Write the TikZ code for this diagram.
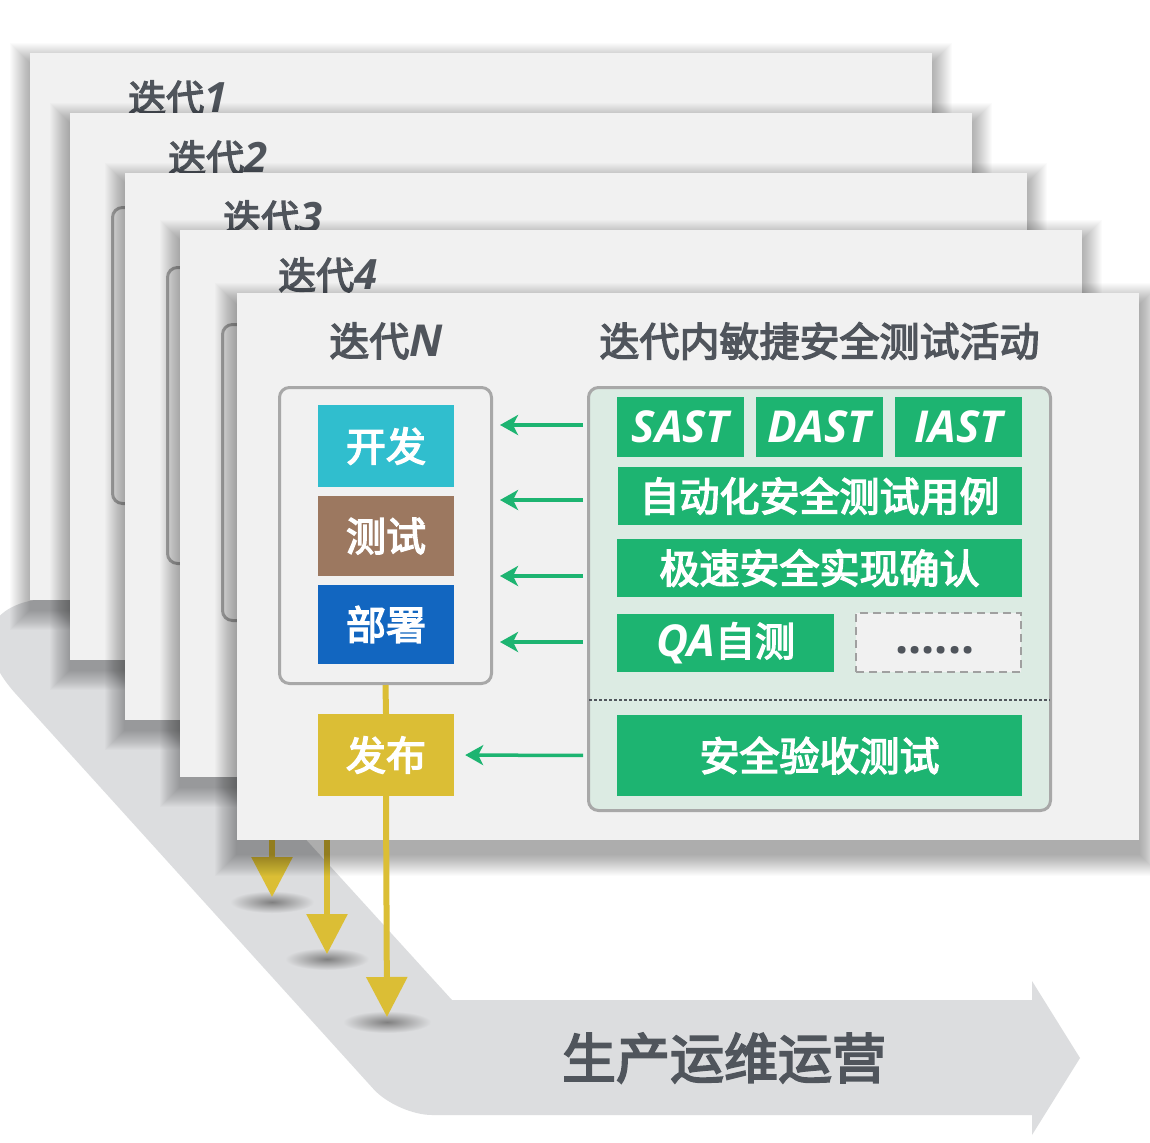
\documentclass[tikz,border=0pt]{standalone}
\usepackage{fontspec}
\newfontfamily\zhfont{Noto Sans CJK SC}[FakeBold=3.5]
\newfontfamily\latfont{Open Sans}[Scale=1.1]
\usetikzlibrary{arrows.meta,calc}
\definecolor{cardbg}{HTML}{F1F1F1}
\definecolor{band}{HTML}{DCDDDF}
\definecolor{txt}{HTML}{50555C}
\definecolor{gfill}{HTML}{1DB471}
\definecolor{cyanbox}{HTML}{30BECE}
\definecolor{brownbox}{HTML}{9C7860}
\definecolor{bluebox}{HTML}{1266C0}
\definecolor{yel}{HTML}{DBBE35}
\definecolor{rbg}{HTML}{DCEBE3}
\definecolor{bord}{HTML}{A8A8A8}
\definecolor{dashbord}{HTML}{A0A0A0}
\newcommand\latbi{\latfont\bfseries\itshape}
\begin{document}
\begin{tikzpicture}[x=1pt,y=-1pt,
  ttlsmall/.style={font=\zhfont\fontsize{38}{44}\selectfont, text=txt, inner sep=0, anchor=west},
  ttl/.style={font=\zhfont\fontsize{40}{46}\selectfont, text=txt, inner sep=0},
  innerbox/.style={draw=bord, line width=3pt, rounded corners=10pt},
  lboxs/.style={draw=bord, line width=3pt, rounded corners=10pt, fill=cardbg, minimum width=212pt, minimum height=296pt, inner sep=0},
  rboxs/.style={draw=bord, line width=3pt, rounded corners=10pt, fill=rbg, minimum width=462pt, minimum height=423pt, inner sep=0},
  cbox/.style={inner sep=0, text=white, font=\zhfont\fontsize{40}{46}\selectfont, minimum width=136pt},
  gbox/.style={inner sep=0, text=white, fill=gfill, font=\zhfont\fontsize{40}{46}\selectfont},
  dashbox/.style={inner sep=0, fill=cardbg, draw=dashbord, line width=2.5pt, dash pattern=on 8pt off 5pt, text=txt},
  garrow/.style={draw=gfill, line width=3.5pt, -{Stealth[length=18pt,width=20pt,inset=5pt]}},
  yline/.style={draw=yel, line width=6pt},
  yarrow/.style={draw=yel, line width=6pt, -{Triangle[length=40pt,width=40pt]}},
  dotline/.style={draw=txt, line width=2.5pt, dash pattern=on 2.5pt off 2.5pt},
  tipshadow/.style={inner color=black!50, outer color=band}
]
\useasboundingbox (0,0) rectangle (1150,1142);
\fill[white] (0,0) rectangle (1150,1142);

% production band arrow
\fill[band] (86,598) [rounded corners=130pt] -- (-71,598) [rounded corners=35pt] -- (397,1115) [sharp corners] -- (1032,1115) -- (1032,1135) -- (1080,1058) -- (1032,981) -- (1032,1000) -- (452,1000) -- cycle;
\node[font=\zhfont\fontsize{54}{60}\selectfont, text=txt, inner sep=0] (ops) at (724,1058) {生产运维运营};

% background iteration cards
\foreach \l/\t/\n in {30/53/1,70/113/2,125/173/3,180/230/4} {
  \foreach \k in {1,...,20}
    \fill[black,opacity=0.017] (\l-\k, \t-\k+10) rectangle (\l+902+\k, \t+547+\k+10);
  \fill[cardbg] (\l,\t) rectangle ++(902,547);
  \node[ttlsmall] (title\n) at (\l+98,\t+45) {迭代{\latbi\n}};
  \draw[innerbox] (\l+42.5,\t+94.5) rectangle ++(212,296);
  \ifnum\n>2
    \shade[tipshadow] (\l+147,\t+547+182) ellipse [x radius=42pt, y radius=11pt];
    \coordinate (s\n) at (\l+147,\t+547);
    \coordinate (e\n) at (\l+147,\t+547+177);
    \draw[yarrow] (s\n) -- (e\n);
  \fi
}

% main card N
\foreach \k in {1,...,22}
  \fill[black,opacity=0.017] (237-\k, 293-\k+12) rectangle (1139+\k, 840+\k+14);
\fill[cardbg] (237,293) rectangle (1139,840);
\node[ttl] (tN) at (386,341) {迭代{\latbi N}};
\node[ttl] (tR) at (819.5,341) {迭代内敏捷安全测试活动};

\node[lboxs] (lbox) at (385.5,535.5) {};
\node[cbox, fill=cyanbox, minimum height=82pt] (kaifa) at (386,446) {开发};
\node[cbox, fill=brownbox, minimum height=80pt] (ceshi) at (386,536) {测试};
\node[cbox, fill=bluebox, minimum height=79pt] (bushu) at (386,624.5) {部署};
\node[cbox, fill=yel, minimum height=82pt] (fabu) at (386,755) {发布};

\node[rboxs] (rbox) at (819.5,599) {};
\node[gbox, minimum width=127pt, minimum height=60pt] (sast) at (680.5,427) {\latbi SAST};
\node[gbox, minimum width=127pt, minimum height=60pt] (dast) at (819.5,427) {\latbi DAST};
\node[gbox, minimum width=127pt, minimum height=60pt] (iast) at (958.5,427) {\latbi IAST};
\node[gbox, minimum width=404pt, minimum height=58pt] (auto) at (819.5,496) {自动化安全测试用例};
\node[gbox, minimum width=405pt, minimum height=58pt] (jisu) at (819.5,568) {极速安全实现确认};
\node[gbox, minimum width=217pt, minimum height=58pt] (qa) at (725.5,643) {{\latbi QA}自测};
\node[dashbox, minimum width=165pt, minimum height=59pt] (more) at (938.5,642.5) {};
\node[text=txt, font=\latfont\bfseries\fontsize{42}{44}\selectfont, inner sep=0] (dots) at (935,650) {......};
\node[gbox, minimum width=405pt, minimum height=81pt] (accept) at (819.5,755.5) {安全验收测试};

\coordinate (d1) at ($(rbox.west)+(2,101)$);
\coordinate (d2) at ($(rbox.east)+(-2,101)$);
\draw[dotline] (d1) -- (d2);

% green arrows
\draw[garrow, shorten <=4pt, shorten >=7pt] ($(rbox.west |- sast)+(0,-2)$) -- ($(lbox.east |- sast)+(0,-2)$);
\draw[garrow, shorten <=4pt, shorten >=7pt] ($(rbox.west |- auto)+(0,4)$) -- ($(lbox.east |- auto)+(0,4)$);
\draw[garrow, shorten <=4pt, shorten >=7pt] ($(rbox.west |- jisu)+(0,8)$) -- ($(lbox.east |- jisu)+(0,8)$);
\draw[garrow, shorten <=4pt, shorten >=7pt] ($(rbox.west |- qa)+(0,-1)$) -- ($(lbox.east |- qa)+(0,-1)$);
\draw[garrow, shorten <=4pt, shorten >=11pt] (rbox.west |- accept) -- (fabu.east);

% yellow release flow
\shade[tipshadow] (387,1022) ellipse [x radius=44pt, y radius=11pt];
\coordinate (tipN) at (387,1017);
\draw[yline] (lbox.south) -- (fabu.north);
\draw[yarrow] (fabu.south) -- (tipN);
\end{tikzpicture}
\end{document}
